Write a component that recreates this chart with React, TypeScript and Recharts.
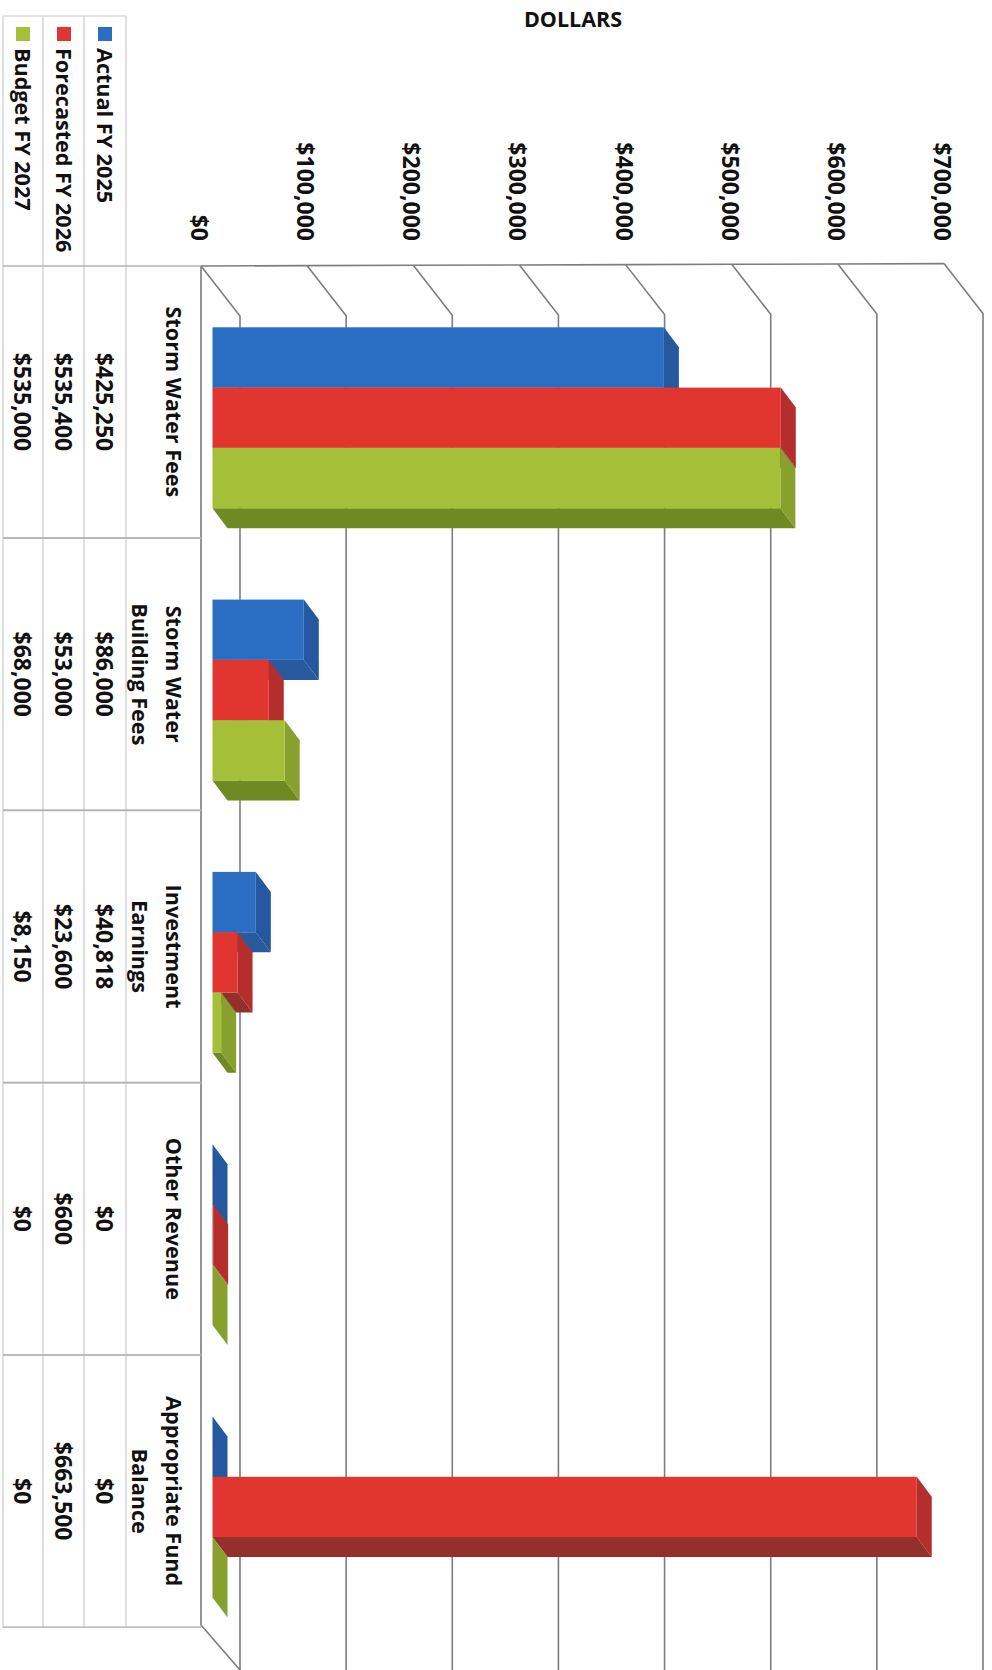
import React from "react";
import { BarChart, Bar, XAxis, YAxis, CartesianGrid } from "recharts";

const categories = ["Storm Water Fees", "Storm Water\nBuilding Fees", "Investment\nEarnings", "Other Revenue", "Appropriate Fund\nBalance"];
const actual = [425250, 86000, 40818, 0, 0];
const forecasted = [535400, 53000, 23600, 600, 663500];
const budget = [535000, 68000, 8150, 0, 0];
const valueTicks = [0, 100000, 200000, 300000, 400000, 500000, 600000, 700000];
const seriesNames = ["Actual FY 2025", "Forecasted FY 2026", "Budget FY 2027"];

const data = categories.map((name, i) => ({ name, actual: actual[i], forecasted: forecasted[i], budget: budget[i] }));
const tableRows = [actual, forecasted, budget];
const rowX = [105, 64, 23];
const swatchColors = ["#2B6DC2", "#E1352F", "#A6BF38"];
const FONT = "'Open Sans', sans-serif";
const TEXT = "#111111";
const money = (v: number) => "$" + v.toLocaleString("en-US");

const V = ({ x, y, anchor = "middle", size = 22.3, weight = 700, children }: any) => (
  <text x={x} y={y} transform={`rotate(90 ${x} ${y})`} textAnchor={anchor} dominantBaseline="central"
    fontFamily={FONT} fontSize={size} fontWeight={weight} fill={TEXT}>{children}</text>
);

const bar3d = (front: string, side: string, under: string) => (p: any) => {
  const { x, y, width, height } = p;
  const dx = 15, dy = 20;
  const r = x + width;
  const b = y + height;
  return (
    <g>
      <polygon points={`${x},${b} ${x + dx},${b + dy} ${r + dx},${b + dy} ${r},${b}`} fill={under} />
      <polygon points={`${r},${y} ${r + dx},${y + dy} ${r + dx},${b + dy} ${r},${b}`} fill={side} />
      <rect x={x} y={y} width={Math.max(width, 0)} height={height} fill={front} />
    </g>
  );
};

const GridLine = (p: any) => {
  const x = p.x1;
  const gridColor = "#7d7d7d";
  const tilt = ((x - 212.5) / 743) * 2.4;
  const topY = 266 - tilt;
  const isFirst = p.index === 0;
  const isLast = x > 950;
  return (
    <g fill="none" stroke={gridColor} strokeWidth={1.6}>
      <polyline points={`${x - 11.5},${topY} ${x + 27.5},${topY + 50} ${x + 27.5},1670`} />
      {!isLast && <line x1={x - 11.5} y1={topY} x2={x - 11.5 + 106.2} y2={topY - 0.34} />}
      {isFirst && <polyline points={`${x - 11.5},${topY} ${x - 11.5},1625 ${x + 27.5},1670`} />}
    </g>
  );
};

const ValueTick = (p: any) => (
  <V x={p.x - 12.5} y={241} anchor="end" size={23}>{money(p.payload.value)}</V>
);

const CategoryTick = (p: any) => {
  const y = p.y;
  const i = p.index;
  const top = y - 151.5;
  const bottom = y + 120.5;
  const lines = String(p.payload.value).split("\n");
  const tableLine = "#d8d8d8";
  return (
    <g>
      {[3, 43, 84, 126].map((x) => (
        <line key={x} x1={x} y1={top} x2={x} y2={bottom} stroke={tableLine} strokeWidth={1.6} />
      ))}
      <line x1={3} y1={top} x2={201} y2={top} stroke="#b5b5b5" strokeWidth={1.4} />
      <line x1={3} y1={bottom} x2={201} y2={bottom} stroke="#a8a8a8" strokeWidth={1.4} />
      {lines.map((t, k) => (
        <V key={k} x={174 - k * 33.5} y={y - 15.5} size={21.6}>{t}</V>
      ))}
      {tableRows.map((row, k) => (
        <V key={k} x={rowX[k]} y={y - 15.5} size={23}>{money(row[i])}</V>
      ))}
    </g>
  );
};

const Legend3 = () => (
  <g>
    {[3, 43, 84, 126].map((x) => (
      <line key={x} x1={x} y1={16} x2={x} y2={266} stroke="#d8d8d8" strokeWidth={1.6} />
    ))}
    <line x1={3} y1={16} x2={126} y2={16} stroke="#d8d8d8" strokeWidth={1.4} />
    {seriesNames.map((s, k) => (
      <g key={s}>
        <rect x={rowX[k] - 7} y={27} width={14} height={14} fill={swatchColors[k]} />
        <V x={rowX[k]} y={48} anchor="start" size={21.6}>{s}</V>
      </g>
    ))}
  </g>
);

export default function App() {
  return (
    <div style={{ position: "absolute", left: 0, top: 0, width: 992, height: 1670, background: "#fff" }}>
      <BarChart width={992} height={1670} data={data} layout="vertical" barSize={60.3} barGap={0}
        margin={{ top: 0, right: 36.5, bottom: 27.2, left: 0 }}>
        <CartesianGrid horizontal={false} vertical={GridLine as any} />
        <XAxis type="number" orientation="top" domain={[0, 700000]} ticks={valueTicks} height={281.3}
          axisLine={false} tickLine={false} tick={ValueTick as any} interval={0} />
        <YAxis type="category" dataKey="name" width={212.5} axisLine={false} tickLine={false}
          tick={CategoryTick as any} interval={0} />
        <Bar dataKey="actual" isAnimationActive={false} shape={bar3d("#2B6DC2", "#24589F", "#2A5A9E") as any} />
        <Bar dataKey="forecasted" isAnimationActive={false} shape={bar3d("#E1352F", "#B32E2C", "#94302C") as any} />
        <Bar dataKey="budget" isAnimationActive={false} shape={bar3d("#A6BF38", "#88A02E", "#6F8A22") as any} />
        <Legend3 />
        <text x={573} y={18} textAnchor="middle" dominantBaseline="central" fontFamily={FONT} fontSize={21.5} fontWeight={700} fill={TEXT}>DOLLARS</text>
      </BarChart>
    </div>
  );
}
